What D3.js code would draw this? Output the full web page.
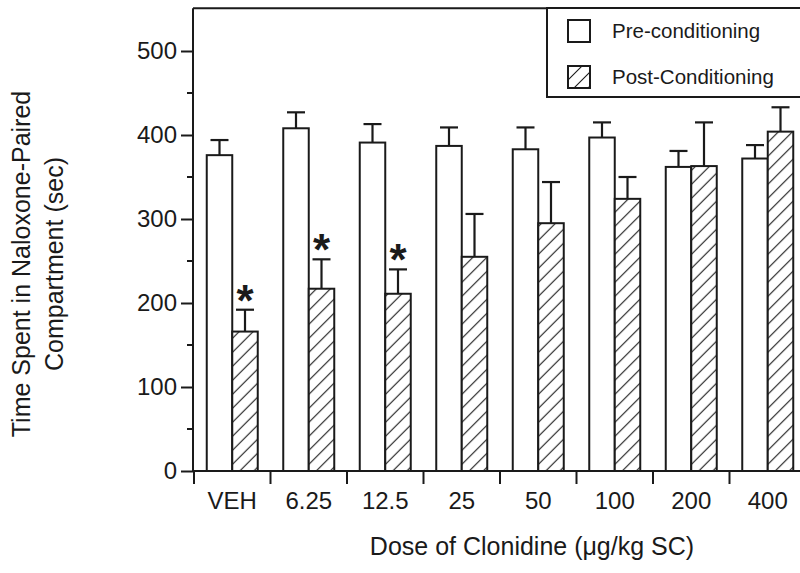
<!DOCTYPE html>
<html>
<head>
<meta charset="utf-8">
<script src="https://d3js.org/d3.v7.min.js"></script>
<style>
  body { margin: 0; background: #fff; }
  svg { display: block; font-family: "Liberation Sans", Arial, sans-serif; }
</style>
</head>
<body>
<div id="chart"></div>
<script>
// data
var doses = ["VEH", "6.25", "12.5", "25", "50", "100", "200", "400"];
var preMean = [376, 408, 391, 387, 383, 397, 362, 372];
var preSem = [18, 19, 22, 22, 26, 18, 19, 16];
var postMean = [166, 217, 211, 255, 295, 324, 363, 404];
var postSem = [26, 35, 29, 51, 49, 26, 52, 29];
var signif = [true, true, true, false, false, false, false, false];
var yTicks = [0, 100, 200, 300, 400, 500];
var yMinor = [50, 150, 250, 350, 450];
var seriesNames = ["Pre-conditioning", "Post-Conditioning"];

var W = 800, H = 573;
var ink = "#1a1a1a";

var svg = d3.select("#chart").append("svg")
    .attr("width", W)
    .attr("height", H);

// diagonal hatch for post bars
var defs = svg.append("defs");
var hatch = defs.append("pattern")
    .attr("id", "hatch")
    .attr("patternUnits", "userSpaceOnUse")
    .attr("width", 14)
    .attr("height", 14);
hatch.append("rect").attr("width", 14).attr("height", 14).attr("fill", "#fff");
hatch.append("path")
    .attr("d", "M-2,2 L2,-2 M0,14 L14,0 M12,16 L16,12")
    .attr("stroke", ink)
    .attr("stroke-width", 1.1);

var y = d3.scaleLinear().domain([0, 500]).range([471, 51]);

var x = d3.scaleBand()
    .domain(doses)
    .range([194, 806])
    .paddingInner(1 / 3)
    .paddingOuter(1 / 6);

var sub = d3.scaleBand()
    .domain(["pre", "post"])
    .range([0, x.bandwidth()]);

var rows = doses.map(function(d, i) {
    return {dose: d, pre: preMean[i], preSem: preSem[i], post: postMean[i], postSem: postSem[i], sig: signif[i]};
});

// frame: top line
svg.append("line")
    .attr("x1", 193).attr("x2", W)
    .attr("y1", y(551)).attr("y2", y(551))
    .attr("stroke", ink).attr("stroke-width", 2);

// y axis
var yAxis = svg.append("g")
    .attr("transform", "translate(193,0)")
    .call(d3.axisLeft(y).tickValues(yTicks).tickSize(12).tickPadding(4).tickFormat(d3.format("d")));
yAxis.select(".domain").remove();
yAxis.selectAll("line").attr("stroke", ink).attr("stroke-width", 2);
yAxis.selectAll("text")
    .attr("font-size", 24)
    .attr("font-family", "Liberation Sans, Arial, sans-serif")
    .attr("fill", ink);

svg.append("g").selectAll("line")
    .data(yMinor)
    .enter().append("line")
    .attr("x1", 187).attr("x2", 193)
    .attr("y1", function(d) { return y(d); })
    .attr("y2", function(d) { return y(d); })
    .attr("stroke", ink).attr("stroke-width", 2);

svg.append("line")
    .attr("x1", 193).attr("x2", 193)
    .attr("y1", y(551)).attr("y2", y(0) + 1)
    .attr("stroke", ink).attr("stroke-width", 2);

// bars
var step = x.step();
var groups = svg.append("g").selectAll(".grp")
    .data(rows)
    .enter().append("g")
    .attr("class", "grp")
    .attr("transform", function(d) { return "translate(" + x(d.dose) + ",0)"; });

function errBar(sel, key, semKey) {
    var cx = sub(key) + sub.bandwidth() / 2;
    sel.append("line")
        .attr("x1", cx).attr("x2", cx)
        .attr("y1", function(d) { return y(d[key]); })
        .attr("y2", function(d) { return y(d[key] + d[semKey]); })
        .attr("stroke", ink).attr("stroke-width", 2.2);
    sel.append("line")
        .attr("x1", cx - 9).attr("x2", cx + 9)
        .attr("y1", function(d) { return y(d[key] + d[semKey]); })
        .attr("y2", function(d) { return y(d[key] + d[semKey]); })
        .attr("stroke", ink).attr("stroke-width", 2.2);
}

errBar(groups, "pre", "preSem");
errBar(groups, "post", "postSem");

groups.append("rect")
    .attr("x", sub("pre"))
    .attr("y", function(d) { return y(d.pre); })
    .attr("width", sub.bandwidth())
    .attr("height", function(d) { return y(0) - y(d.pre); })
    .attr("fill", "#fff")
    .attr("stroke", ink).attr("stroke-width", 2);

groups.append("rect")
    .attr("x", sub("post"))
    .attr("y", function(d) { return y(d.post); })
    .attr("width", sub.bandwidth())
    .attr("height", function(d) { return y(0) - y(d.post); })
    .attr("fill", "url(#hatch)")
    .attr("stroke", ink).attr("stroke-width", 2);

// asterisks
groups.filter(function(d) { return d.sig; })
    .append("text")
    .attr("x", sub("post") + sub.bandwidth() / 2)
    .attr("y", function(d) { return y(d.post + d.postSem) + 6; })
    .attr("text-anchor", "middle")
    .attr("font-size", 44)
    .attr("font-weight", "bold")
    .attr("fill", ink)
    .text("*");

// x axis
svg.append("line")
    .attr("x1", 193).attr("x2", W)
    .attr("y1", y(0)).attr("y2", y(0))
    .attr("stroke", ink).attr("stroke-width", 2);

var xTicks = doses.map(function(d) { return x(d) - step * x.paddingInner() / 2; });
svg.append("g").selectAll("line")
    .data(xTicks)
    .enter().append("line")
    .attr("x1", function(d) { return d; })
    .attr("x2", function(d) { return d; })
    .attr("y1", y(0)).attr("y2", y(0) + 13)
    .attr("stroke", ink).attr("stroke-width", 2);

svg.append("g").selectAll("text")
    .data(doses)
    .enter().append("text")
    .attr("x", function(d) { return x(d) + x.bandwidth() / 2; })
    .attr("y", 509)
    .attr("text-anchor", "middle")
    .attr("font-size", 24)
    .attr("fill", ink)
    .text(function(d) { return d; });

// axis titles
svg.append("text")
    .attr("x", 532).attr("y", 555)
    .attr("text-anchor", "middle")
    .attr("font-size", 25)
    .attr("fill", ink)
    .text("Dose of Clonidine (\u03bcg/kg SC)");

var yTitle = svg.append("text")
    .attr("transform", "translate(0,264) rotate(-90)")
    .attr("text-anchor", "middle")
    .attr("font-size", 25)
    .attr("fill", ink);
yTitle.append("tspan").attr("x", 0).attr("y", 30).text("Time Spent in Naloxone-Paired");
yTitle.append("tspan").attr("x", 0).attr("y", 63).text("Compartment (sec)");

// legend
var lg = svg.append("g");
lg.append("rect")
    .attr("x", 547).attr("y", 8)
    .attr("width", 270).attr("height", 89)
    .attr("fill", "#fff")
    .attr("stroke", ink).attr("stroke-width", 2);

var legItems = lg.selectAll(".item")
    .data(seriesNames)
    .enter().append("g")
    .attr("class", "item")
    .attr("transform", function(d, i) { return "translate(568," + (20 + i * 46) + ")"; });

legItems.append("rect")
    .attr("width", 22).attr("height", 22)
    .attr("fill", function(d, i) { return i === 0 ? "#fff" : "url(#hatch)"; })
    .attr("stroke", ink).attr("stroke-width", 2);

legItems.append("text")
    .attr("x", 44).attr("y", 18)
    .attr("font-size", 20.5)
    .attr("fill", ink)
    .text(function(d) { return d; });
</script>
</body>
</html>
